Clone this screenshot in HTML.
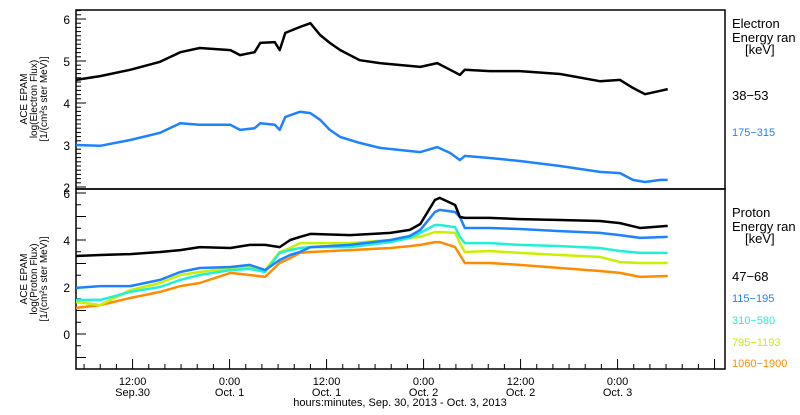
<!DOCTYPE html>
<html><head><meta charset="utf-8"><style>
body{margin:0;background:#fff;font-family:"Liberation Sans",sans-serif}
svg text{font-family:"Liberation Sans",sans-serif}
</style></head><body>
<svg id="c" width="800" height="410" viewBox="0 0 800 410">
<g id="axes"></g><g id="series"></g>
<g font-size="13">
<text x="732" y="28">Electron</text>
<text x="732" y="42">Energy ran</text>
<text x="745" y="54">[keV]</text>
<text x="732" y="100" fill="#000">38−53</text>
<text x="732" y="136" fill="#1e82ff" font-size="11">175−315</text>
</g>
<g font-size="13">
<text x="732" y="217">Proton</text>
<text x="732" y="231">Energy ran</text>
<text x="745" y="243">[keV]</text>
<text x="732" y="281" fill="#000">47−68</text>
<text x="732" y="302" fill="#1e82ff" font-size="11">115−195</text>
<text x="732" y="324" fill="#20f0d8" font-size="11">310−580</text>
<text x="732" y="346" fill="#c8f000" font-size="11">795−1193</text>
<text x="732" y="367" fill="#ff8c00" font-size="11">1060−1900</text>
</g>
<g font-size="10" text-anchor="middle">
<text transform="translate(27,99) rotate(-90)">ACE EPAM</text>
<text transform="translate(37,99) rotate(-90)">log(Electron Flux)</text>
<text transform="translate(47,99) rotate(-90)">[1/(cm²s ster MeV)]</text>
<text transform="translate(27,279) rotate(-90)">ACE EPAM</text>
<text transform="translate(37,279) rotate(-90)">log(Proton Flux)</text>
<text transform="translate(47,279) rotate(-90)">[1/(cm²s ster MeV)]</text>
<text x="400" y="406" font-size="11">hours:minutes, Sep. 30, 2013 - Oct. 3, 2013</text>
</g>
</svg>
<script>
const topHours=[0,3.0,6.7,10.4,12.9,15.3,19.1,20.3,22.1,22.8,24.6,25.2,25.9,27.7,29.0,30.2,31.4,32.7,35.1,37.6,42.6,44.7,46.3,47.5,48.1,51.2,54.9,59.9,64.8,67.3,68.9,70.4,72.3,73.2];
const elec38=[4.55,4.64,4.79,4.98,5.21,5.31,5.26,5.14,5.21,5.43,5.45,5.26,5.67,5.81,5.90,5.62,5.43,5.26,5.02,4.95,4.86,4.95,4.79,4.67,4.79,4.76,4.76,4.69,4.52,4.55,4.36,4.21,4.29,4.33];
const elec175=[3.00,2.98,3.12,3.29,3.52,3.48,3.48,3.36,3.40,3.52,3.48,3.36,3.67,3.79,3.76,3.60,3.36,3.19,3.05,2.93,2.83,2.95,2.81,2.64,2.74,2.69,2.62,2.50,2.36,2.33,2.17,2.12,2.17,2.17];
const botHours=[0,3.0,6.7,10.4,12.9,15.3,19.1,21.5,23.4,25.2,26.5,27.7,29.0,33.9,38.9,41.3,42.6,44.4,45.0,46.9,47.5,48.1,51.2,54.9,59.9,64.8,67.3,69.8,73.2];
const prot47=[3.32,3.36,3.40,3.49,3.57,3.70,3.66,3.79,3.79,3.70,4.00,4.13,4.26,4.21,4.30,4.43,4.68,5.70,5.79,5.49,4.98,4.94,4.94,4.89,4.85,4.81,4.72,4.51,4.60];
const prot115=[1.96,2.04,2.04,2.30,2.64,2.81,2.85,2.94,2.72,3.15,3.36,3.49,3.70,3.79,4.00,4.17,4.43,5.19,5.28,5.19,4.98,4.51,4.51,4.47,4.38,4.30,4.21,4.09,4.13];
const prot310=[1.45,1.45,1.79,2.00,2.30,2.51,2.72,2.77,2.64,3.45,3.57,3.66,3.70,3.70,3.91,4.09,4.30,4.64,4.64,4.55,4.13,3.87,3.87,3.79,3.74,3.66,3.53,3.45,3.45];
const prot795=[1.36,1.23,1.87,2.17,2.51,2.64,2.81,2.85,2.72,3.49,3.66,3.87,3.87,3.87,4.00,4.09,4.13,4.34,4.34,4.30,3.87,3.49,3.53,3.45,3.36,3.28,3.06,3.02,3.02];
const prot1060=[1.11,1.23,1.53,1.79,2.04,2.17,2.60,2.51,2.43,3.02,3.23,3.45,3.49,3.57,3.66,3.74,3.79,3.91,3.91,3.70,3.36,3.02,3.02,2.94,2.81,2.68,2.60,2.43,2.47];
const xTickLabels=["12:00","0:00","12:00","0:00","12:00","0:00"];
const xTickDates=["Sep.30","Oct. 1","Oct. 1","Oct. 2","Oct. 2","Oct. 3"];
const topYTicks=["2","3","4","5","6"];
const botYTicks=["0","2","4","6"];

const NS="http://www.w3.org/2000/svg";
const X0=76,X1=725,PX_PER_H=8.083,FIRST_MAJOR=7;
const xs=h=>X0+h*PX_PER_H;
const yTop=v=>19+(6-v)*42;
const yBot=v=>193+(6-v)*23.5;
const axes=document.getElementById('axes'),ser=document.getElementById('series');
function mk(tag,attrs,parent){const e=document.createElementNS(NS,tag);for(const k in attrs)e.setAttribute(k,attrs[k]);parent.appendChild(e);return e;}
let f1=mk('rect',{x:X0,y:10,width:X1-X0,height:179,fill:'none',stroke:'#000','stroke-width':1.5},axes);


let f2=mk('rect',{x:X0,y:189,width:X1-X0,height:180,fill:'none',stroke:'#000','stroke-width':1.5},axes);


for(let i=0;i<=42;i++){const v=Math.round((1.95+i*0.1)*10)/10;const y=yTop(v);if(y<10||y>189)continue;
 const major=Math.abs(Math.round(v*10)%10)===0;
 let t=mk('line',{x1:X0,x2:X0+(major?10:5),y1:y,y2:y,stroke:'#000'},axes);
 
 }
topYTicks.forEach(s=>{let t=mk('text',{x:70,y:yTop(+s)+5,'text-anchor':'end','font-size':12},axes);t.textContent=s;
 
 });
for(let i=-3;i<=12;i++){const v=i*0.5;const y=yBot(v);if(y<189||y>369)continue;
 const major=i%2===0;
 let t=mk('line',{x1:X0,x2:X0+(major?10:5),y1:y,y2:y,stroke:'#000'},axes);
 
 }
botYTicks.forEach(s=>{let t=mk('text',{x:70,y:yBot(+s)+5,'text-anchor':'end','font-size':12},axes);t.textContent=s;
 
 });
for(let h=1;h<=80;h+=2){const x=xs(h);if(x>X1)break;const major=(h-FIRST_MAJOR)%12===0;
 let t=mk('line',{x1:x,x2:x,y1:369,y2:369-(major?10:5),stroke:'#000'},axes);
 
 }
xTickLabels.forEach((s,i)=>{const x=xs(FIRST_MAJOR+12*i);
 let t=mk('text',{x:x,y:385,'text-anchor':'middle','font-size':11},axes);t.textContent=s;
 
 
 let d=mk('text',{x:x,y:396,'text-anchor':'middle','font-size':11},axes);d.textContent=xTickDates[i];
 
 });
function line(hours,vals,ymap,color,name){
 const pts=hours.map((h,i)=>xs(h).toFixed(1)+','+ymap(vals[i]).toFixed(1)).join(' ');
 let p=mk('polyline',{points:pts,fill:'none',stroke:color,'stroke-width':2.5,'stroke-linejoin':'round'},ser);
 
 }
line(topHours,elec38,yTop,'#000','series-electron-38-53');
line(topHours,elec175,yTop,'#1e82ff','series-electron-175-315');
line(botHours,prot1060,yBot,'#ff8c00','series-proton-1060-1900');
line(botHours,prot795,yBot,'#c8f000','series-proton-795-1193');
line(botHours,prot310,yBot,'#20f0d8','series-proton-310-580');
line(botHours,prot115,yBot,'#1e82ff','series-proton-115-195');
line(botHours,prot47,yBot,'#000','series-proton-47-68');
</script>
</body></html>
